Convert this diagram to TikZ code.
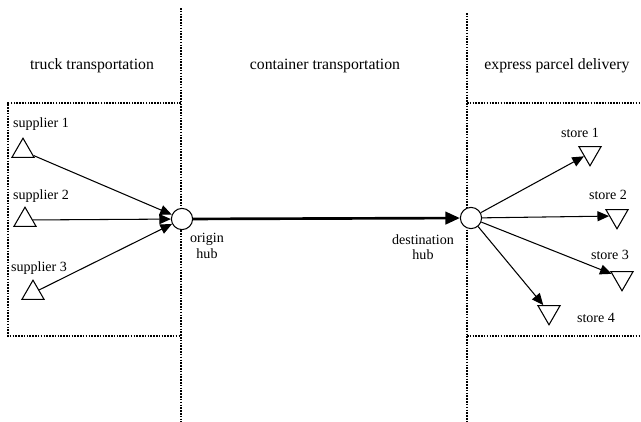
\documentclass[tikz,border=0pt]{standalone}
\usepackage{fontspec}
\setmainfont{Liberation Serif}
\usetikzlibrary{shapes.geometric,arrows.meta}

\begin{document}
\begin{tikzpicture}[x=0.025cm, y=-0.025cm, font=\fontsize{10}{11}\selectfont,
		dots/.style={line width=0.8pt, dash pattern=on 1.1pt off 0.9pt},
		supplier/.style={draw, line width=0.75pt, regular polygon, regular polygon sides=3, minimum size=0.64cm, inner sep=0pt},
		store/.style={supplier, shape border rotate=180},
		hub/.style={draw, line width=0.75pt, circle, minimum size=0.53cm, inner sep=0pt, fill=white},
		leg/.style={line width=0.75pt, -{Triangle[length=2.9mm, width=2.5mm]}},
		trunk/.style={line width=1.9pt, -{Triangle[length=3.6mm, width=3.1mm]}},
		txt/.style={inner sep=0pt, align=center},
		head/.style={txt, font=\fontsize{11.2}{12}\selectfont}]
	\useasboundingbox (0,0) rectangle (641,422);
	\draw[dots] (181,8) -- (181,422);
	\draw[dots] (467,13) -- (467,422);
	\draw[dots] (181,103) -- (8,103) -- (8,336) -- (181,336);
	\draw[dots] (467,103) -- (641,103);
	\draw[dots] (467,336) -- (641,336);

	\node[head] (t1) at (92,66) {truck transportation};
	\node[head] (t2) at (325,66) {container transportation};
	\node[head] (t3) at (557,66) {express parcel delivery};

	\node[supplier] (s1) at (23,151) {};
	\node[supplier] (s2) at (25,220) {};
	\node[supplier] (s3) at (33,293) {};
	\node[txt] (l1) at (41,124) {supplier 1};
	\node[txt] (l2) at (41,196) {supplier 2};
	\node[txt] (l3) at (39,268) {supplier 3};

	\node[hub] (o) at (182,219) {};
	\node[hub] (d) at (471,218) {};
	\node[txt] (lo) at (207,246) {origin\\hub};
	\node[txt] (ld) at (423,247) {destination\\hub};

	\node[store] (r1) at (590,153) {};
	\node[store] (r2) at (617,216) {};
	\node[store] (r3) at (622,278) {};
	\node[store] (r4) at (549,312) {};
	\node[txt] (m1) at (580,133) {store 1};
	\node[txt] (m2) at (608,195) {store 2};
	\node[txt] (m3) at (610,255) {store 3};
	\node[txt] (m4) at (596,318) {store 4};

	\foreach \s in {s1,s2,s3}
		\draw[leg] (\s) -- (o);
	\draw[trunk] (o) -- (d);
	\foreach \r in {r1,r2,r3,r4}
		\draw[leg] (d) -- (\r);
\end{tikzpicture}
\end{document}
